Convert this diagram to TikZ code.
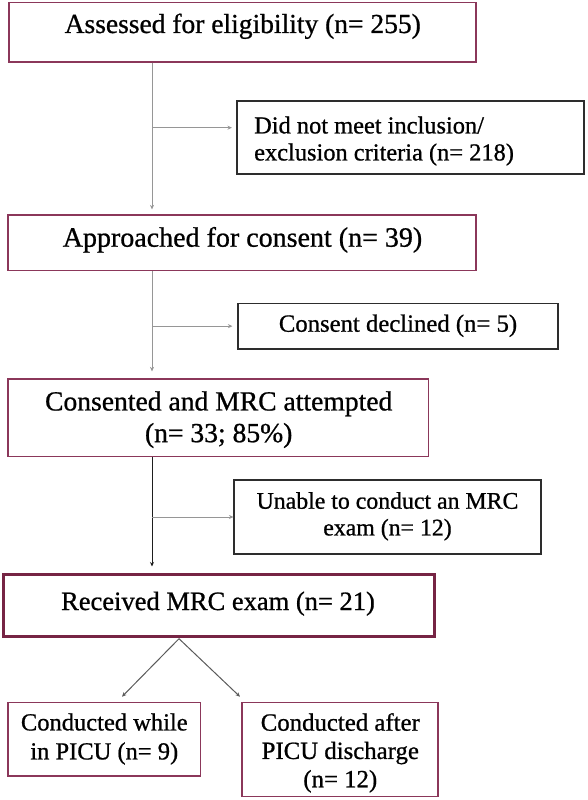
\documentclass[tikz,border=0pt]{standalone}
\usepackage{fontspec}
\setmainfont[FakeBold=0.8]{Liberation Serif}
\usetikzlibrary{arrows.meta}
\definecolor{mainedge}{RGB}{139,55,90}
\definecolor{recedge}{RGB}{118,36,68}
\definecolor{sideedge}{RGB}{45,45,45}
\definecolor{conncol}{RGB}{150,150,150}
\definecolor{darkconn}{RGB}{30,30,30}
\definecolor{diagcol}{RGB}{90,90,90}
\tikzset{
  mainbox/.style={draw=mainedge, line width=1.2pt, rectangle, inner sep=0pt},
  recbox/.style={draw=recedge, line width=3pt, rectangle, inner sep=0pt},
  sidebox/.style={draw=sideedge, line width=1.1pt, rectangle, inner sep=0pt},
  conn/.style={draw=conncol, line width=0.9pt, -{Stealth[length=4.5pt,width=4pt]}},
  dconn/.style={draw=darkconn, line width=1pt, -{Stealth[length=4.5pt,width=4pt]}},
  diagconn/.style={draw=diagcol, line width=1pt, -{Stealth[length=4.5pt,width=4pt]}},
  txt/.style={inner sep=0pt, text=black}
}
\begin{document}
\begin{tikzpicture}[x=1pt,y=-1pt]
\fill[white] (0,0) rectangle (588,800);
\useasboundingbox (0,0) rectangle (588,800);
% boxes
\node[mainbox, minimum width=467pt, minimum height=59.3pt] (A) at (242.5,32.35) {};
\node[sidebox, minimum width=347pt, minimum height=73pt] (D) at (410.5,137.5) {};
\node[mainbox, minimum width=468pt, minimum height=55.7pt] (B) at (242,242.85) {};
\node[sidebox, minimum width=320pt, minimum height=45.7pt] (CD) at (398,326.15) {};
\node[mainbox, minimum width=420.6pt, minimum height=77.7pt] (C) at (218.3,417.85) {};
\node[sidebox, minimum width=307pt, minimum height=74pt] (U) at (387.5,517) {};
\node[recbox, minimum width=430.3pt, minimum height=62pt] (R) at (218.85,605) {};
\node[mainbox, minimum width=192.6pt, minimum height=73.3pt] (W) at (104.3,739.35) {};
\node[mainbox, minimum width=196pt, minimum height=94pt] (F) at (340,749.7) {};
% texts
\node[txt, anchor=base, font=\fontsize{27.5}{33}\selectfont] (tA) at (242.75,33) {Assessed for eligibility (n= 255)};
\node[txt, anchor=north west, align=left, font=\fontsize{24.4}{27}\selectfont] (tD) at (254,116.3) {Did not meet inclusion/\\exclusion criteria (n= 218)};
\node[txt, anchor=base, font=\fontsize{28}{33}\selectfont] (tB) at (242.5,246.7) {Approached for consent (n= 39)};
\node[txt, anchor=base, font=\fontsize{24.7}{29}\selectfont] (tCD) at (398,331.7) {Consent declined (n= 5)};
\node[txt, anchor=north, align=center, font=\fontsize{27.6}{31.7}\selectfont] (tC) at (218.7,391.1) {Consented and MRC attempted\\(n= 33; 85\%)};
\node[txt, anchor=north, align=center, font=\fontsize{23.8}{26.7}\selectfont] (tU) at (387.5,492) {Unable to conduct an MRC\\exam (n= 12)};
\node[txt, anchor=base, font=\fontsize{26.5}{31}\selectfont] (tR) at (218,610) {Received MRC exam (n= 21)};
\node[txt, anchor=north, align=center, font=\fontsize{24.5}{29}\selectfont] (tW) at (104.3,713.2) {Conducted while\\in PICU (n= 9)};
\node[txt, anchor=north, align=center, font=\fontsize{24.8}{28.3}\selectfont] (tF) at (340.3,713) {Conducted after\\PICU discharge\\(n= 12)};
% connectors
\coordinate (s) at (152,0);
\coordinate (dIn) at ([yshift=9.8pt]D.west);
\draw[conn, shorten >=5pt] (A.south -| s) -- (B.north -| s);
\draw[conn, shorten >=4.5pt] (s |- dIn) -- (dIn);
\draw[conn, shorten >=7pt] (B.south -| s) -- (C.north -| s);
\draw[conn, shorten >=5pt] (s |- CD.west) -- (CD.west);
\draw[dconn, shorten >=6pt] (C.south -| s) -- (R.north -| s);
\draw[conn, shorten >=0pt] (s |- U.west) -- (U.west);
\coordinate (rs) at (179,638.7);
\coordinate (wt) at (122,696.7);
\coordinate (ft) at (240,696.7);
\draw[diagconn] (rs) -- (wt);
\draw[diagconn] (rs) -- (ft);
\end{tikzpicture}
\end{document}
